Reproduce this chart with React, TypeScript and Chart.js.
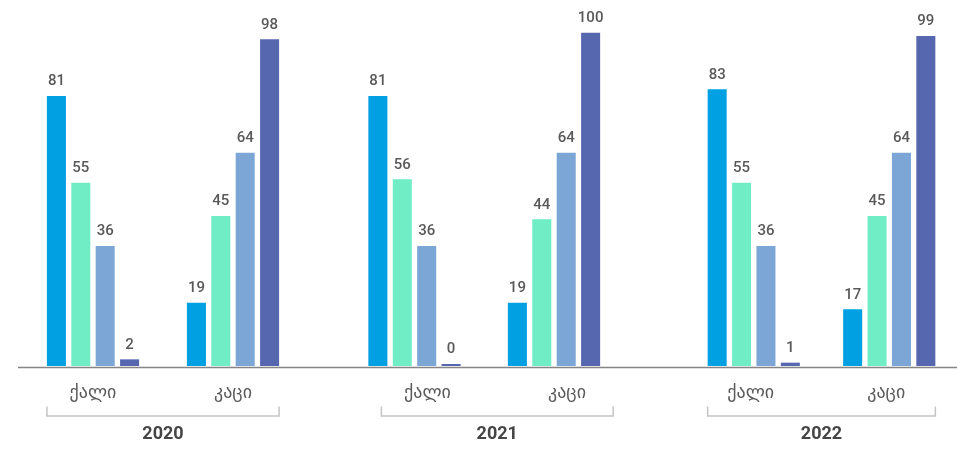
import React, { useEffect, useRef } from 'react';
import { Chart, registerables } from 'chart.js';

Chart.register(...registerables);

// ---- data ----
const years = ['2020', '2021', '2022'];
const genders = ['ქალი', 'კაცი'];
const seriesNames = ['სერია 1', 'სერია 2', 'სერია 3', 'სერია 4'];
// order: 2020 ქალი, 2020 კაცი, 2021 ქალი, 2021 კაცი, 2022 ქალი, 2022 კაცი
const series1 = [81, 19, 81, 19, 83, 17];
const series2 = [55, 45, 56, 44, 55, 45];
const series3 = [36, 64, 36, 64, 36, 64];
const series4 = [2, 98, 0, 100, 1, 99];
const allSeries = [series1, series2, series3, series4];

// ---- styles ----
const colors = ['#00A0E3', '#70EDC5', '#7BA6D6', '#5767AF'];
const panels = [
  { left: 18, width: 306, padLeft: 5, padRight: 21, catPct: 0.697, labelShift: 0, bracketShift: 0 },
  { left: 324, width: 330, padLeft: 20.75, padRight: 30.25, catPct: 0.7, labelShift: 13, bracketShift: 13 },
  { left: 654, width: 303, padLeft: 32, padRight: 0, catPct: 0.72, labelShift: -3, bracketShift: 0 },
];

const decorPlugin = {
  id: 'decor',
  afterDatasetsDraw(chart: any) {
    const ctx = chart.ctx;
    ctx.save();
    ctx.font = '500 15px Roboto';
    ctx.fillStyle = '#595959';
    ctx.textAlign = 'center';
    ctx.textBaseline = 'middle';
    chart.data.datasets.forEach((ds: any, i: number) => {
      const meta = chart.getDatasetMeta(i);
      meta.data.forEach((bar: any, j: number) => {
        ctx.fillText(String(ds.data[j]), bar.x, bar.y - 14.5);
      });
    });
    ctx.restore();
  },
  afterDraw(chart: any, _args: any, opts: any) {
    const { ctx, chartArea, width } = chart;
    ctx.save();
    // baseline
    ctx.strokeStyle = '#858585';
    ctx.lineWidth = 1.5;
    const y = chartArea.bottom + 1.5;
    ctx.beginPath();
    ctx.moveTo(0, y);
    ctx.lineTo(width, y);
    ctx.stroke();
    // bracket
    const n = chart.data.datasets.length;
    const first = chart.getDatasetMeta(0).data[0];
    const lastData = chart.getDatasetMeta(n - 1).data;
    const last = lastData[lastData.length - 1];
    const x0 = first.x - first.width / 2 + opts.shift;
    const x1 = last.x + last.width / 2 + opts.shift;
    ctx.strokeStyle = '#C4C4C4';
    ctx.lineWidth = 1.5;
    ctx.beginPath();
    ctx.moveTo(x0, 406.5);
    ctx.lineTo(x0, 416);
    ctx.lineTo(x1, 416);
    ctx.lineTo(x1, 406.5);
    ctx.stroke();
    // year label
    ctx.font = 'bold 18px Roboto';
    ctx.fillStyle = '#454545';
    ctx.textAlign = 'center';
    ctx.textBaseline = 'middle';
    ctx.fillText(opts.text, (x0 + x1) / 2, 434.5);
    ctx.restore();
  },
};

function Panel({ index }: { index: number }) {
  const ref = useRef<HTMLCanvasElement | null>(null);
  const p = panels[index];
  useEffect(() => {
    if (!ref.current) return;
    const chart = new Chart(ref.current, {
      type: 'bar',
      data: {
        labels: genders,
        datasets: allSeries.map((s, i) => ({
          label: seriesNames[i],
          data: s.slice(index * 2, index * 2 + 2),
          backgroundColor: colors[i],
          borderWidth: 0,
          minBarLength: 2,
          categoryPercentage: p.catPct,
          barPercentage: 0.78,
        })),
      },
      options: {
        animation: false,
        responsive: true,
        maintainAspectRatio: false,
        layout: { padding: { top: 16, left: p.padLeft, right: p.padRight, bottom: 0 } },
        plugins: {
          legend: { display: false },
          tooltip: { enabled: false },
          decor: { text: years[index], shift: p.bracketShift },
        } as any,
        scales: {
          x: {
            grid: { display: false, drawTicks: false },
            border: { display: false },
            ticks: {
              color: '#5A5A5A',
              font: { family: 'DejaVu Sans', size: 18 },
              padding: 17,
              labelOffset: p.labelShift,
              autoSkip: false,
              maxRotation: 0,
            },
            afterFit: (s: any) => {
              s.height = 84;
            },
          },
          y: { display: false, min: 0, max: 105 },
        },
      },
      plugins: [decorPlugin],
    });
    return () => chart.destroy();
  }, [index]);
  return (
    <div style={{ position: 'absolute', left: p.left, top: 0, width: p.width, height: 450 }}>
      <canvas ref={ref} />
    </div>
  );
}

export default function App() {
  return (
    <div
      style={{
        position: 'absolute',
        left: 0,
        top: 0,
        width: 957,
        height: 450,
        overflow: 'hidden',
        background: '#ffffff',
      }}
    >
      {years.map((_, i) => (
        <Panel key={i} index={i} />
      ))}
    </div>
  );
}
